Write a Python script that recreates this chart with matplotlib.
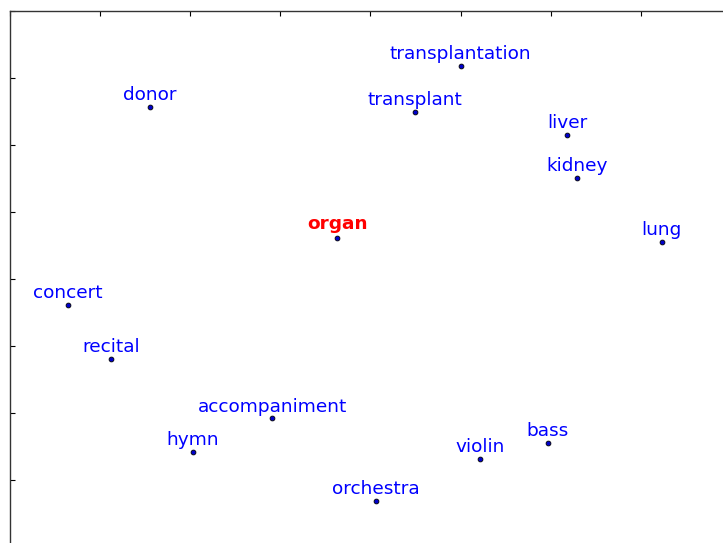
import matplotlib
matplotlib.use('Agg')
import matplotlib.pyplot as plt

# Word positions (2-D embedding projection)
words = ['transplantation', 'donor', 'transplant', 'liver', 'kidney', 'organ',
         'lung', 'concert', 'recital', 'accompaniment', 'hymn', 'bass',
         'violin', 'orchestra']
xs = [1.00, -2.45, 0.49, 2.18, 2.29, -0.37, 3.23, -3.36, -2.88, -1.09,
      -1.97, 1.97, 1.22, 0.06]
ys = [3.18, 2.57, 2.49, 2.15, 1.51, 0.61, 0.55, -0.39, -1.19, -2.08,
      -2.58, -2.45, -2.69, -3.31]
query = 'organ'

fig = plt.figure(figsize=(7.23, 5.43), dpi=100)
# axes run past the right and bottom edge of the figure, as in the reference
ax = fig.add_axes([10 / 723, -71 / 543, 811 / 723, 603 / 543])

ax.scatter(xs, ys, s=12, c='#0000cc', edgecolors='k', linewidths=0.6, zorder=3)
for w, x, y in zip(words, xs, ys):
    if w == query:
        ax.annotate(w, (x, y), xytext=(0, 3.5), textcoords='offset points',
                    color='red', fontsize=13.3, fontweight='bold',
                    ha='center', va='bottom')
    else:
        ax.annotate(w, (x, y), xytext=(0, 2), textcoords='offset points',
                    color='blue', fontsize=13.3, ha='center', va='bottom')

ax.set_xlim(-4, 5)
ax.set_ylim(-5, 4)
ax.set_xticks(range(-4, 6))
ax.set_yticks(range(-5, 5))
ax.tick_params(direction='in', length=3.5, width=0.8, top=True, right=True,
               labelleft=False, labelbottom=False)
for s in ax.spines.values():
    s.set_color('#333333')
    s.set_linewidth(1.0)

fig.savefig('out.png', dpi=100)
